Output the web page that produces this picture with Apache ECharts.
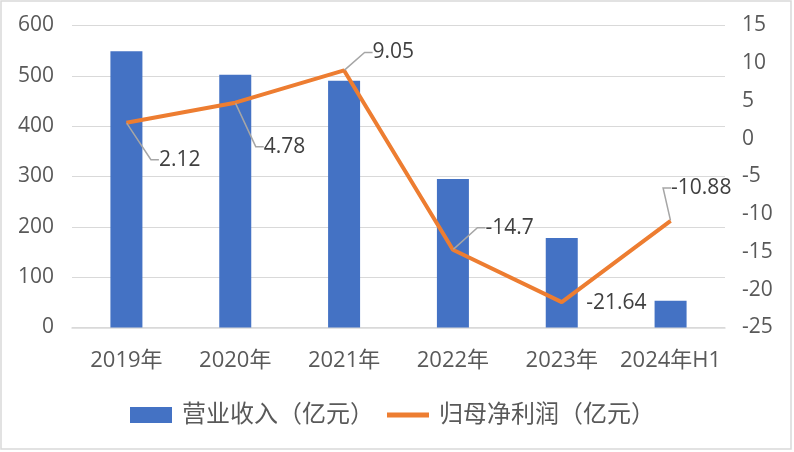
<!DOCTYPE html>
<html>
<head>
<meta charset="utf-8">
<script src="https://cdn.jsdelivr.net/npm/echarts@6/dist/echarts.min.js"></script>
<style>
html,body{margin:0;padding:0;background:#fff;}
#c{width:794px;height:452px;}
</style>
</head>
<body>
<div id="c"></div>
<script>
const categories = ['2019年', '2020年', '2021年', '2022年', '2023年', '2024年H1'];
const revenue = [549, 502, 490, 295, 178, 53];
const netProfit = [2.12, 4.78, 9.05, -14.7, -21.64, -10.88];
const revenueName = '营业收入（亿元）';
const profitName = '归母净利润（亿元）';
// label displacement (px) for each profit label, plus whether a leader line is drawn
const labelDx = [20, 16, 16, 20, 12, -12];
const labelDy = [37, 44, -18, -22, 1, -33];
const labelLineShow = [true, true, true, true, false, true];

const FONT = "'Open Sans', 'Noto Sans CJK SC', sans-serif";
const TXT = '#595959';

const chart = echarts.init(document.getElementById('c'), null, {renderer: 'canvas'});
chart.setOption({
  backgroundColor: '#ffffff',
  animation: false,
  textStyle: {fontFamily: FONT},
  graphic: [{
    type: 'rect',
    shape: {x: 1, y: 1, width: 790, height: 448},
    style: {fill: 'none', stroke: '#d9d9d9', lineWidth: 1.5},
    silent: true
  }],
  grid: {left: 72, right: 69, top: 25.5, bottom: 124.5, containLabel: false},
  legend: {
    left: 130,
    top: 403,
    padding: 0,
    itemWidth: 42,
    itemHeight: 16,
    itemGap: 13,
    textStyle: {fontFamily: FONT, fontSize: 24, color: TXT, padding: [0, 0, 0, 5]},
    data: [
      {name: revenueName, icon: 'rect'},
      {name: profitName, icon: 'path://M0 0H42V5H0Z'}
    ]
  },
  xAxis: {
    type: 'category',
    data: categories,
    axisTick: {show: false},
    axisLine: {lineStyle: {color: '#d9d9d9', width: 1.5}},
    axisLabel: {color: TXT, fontSize: 22, margin: 22, fontFamily: FONT, interval: 0}
  },
  yAxis: [{
    type: 'value',
    min: 0, max: 600, interval: 100,
    axisLine: {show: false},
    axisTick: {show: false},
    splitLine: {lineStyle: {color: '#d9d9d9', width: 1.2}},
    axisLabel: {color: TXT, fontSize: 21, margin: 18, fontFamily: FONT}
  }, {
    type: 'value',
    min: -25, max: 15, interval: 5,
    axisLine: {show: false},
    axisTick: {show: false},
    splitLine: {show: false},
    axisLabel: {color: TXT, fontSize: 21, margin: 17, fontFamily: FONT}
  }],
  series: [{
    name: revenueName,
    type: 'bar',
    data: revenue,
    barWidth: 32,
    itemStyle: {color: '#4472C4'}
  }, {
    name: profitName,
    type: 'line',
    yAxisIndex: 1,
    data: netProfit.map((v, i) => ({value: v, labelLine: {show: labelLineShow[i]}})),
    symbol: 'circle',
    symbolSize: 1,
    lineStyle: {color: '#ED7D31', width: 4},
    itemStyle: {color: '#ED7D31'},
    label: {
      show: true,
      position: 'right',
      distance: 5,
      padding: [2, 4, 2, 7],
      color: '#404040',
      fontSize: 21,
      fontFamily: FONT
    },
    labelLine: {
      show: true,
      length2: 8,
      lineStyle: {color: '#a6a6a6', width: 1.5}
    },
    labelLayout: function (p) {
      return {dx: labelDx[p.dataIndex], dy: labelDy[p.dataIndex]};
    },
    z: 3
  }]
});
</script>
</body>
</html>
